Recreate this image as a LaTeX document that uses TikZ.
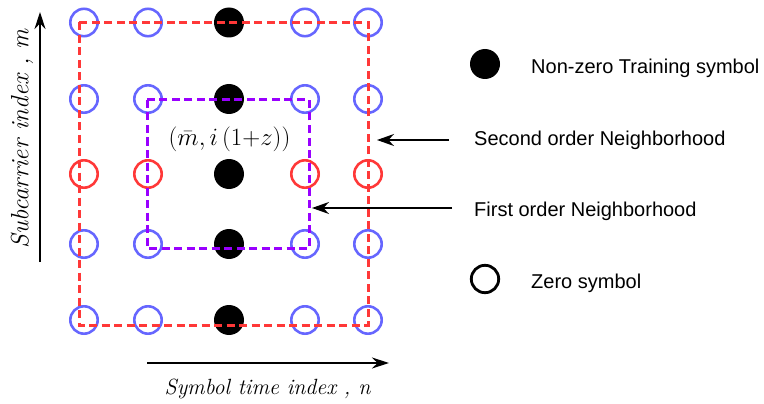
\documentclass[tikz,border=0pt]{standalone}
\usepackage{fontspec}
\newfontfamily\legendfont{Liberation Sans}
\usetikzlibrary{arrows.meta}
\definecolor{zblue}{HTML}{6666FF}
\definecolor{nred}{HTML}{FF3838}
\definecolor{npurple}{HTML}{9900FF}

\begin{document}
\begin{tikzpicture}[x=1pt,y=-1pt,
  zero/.style={circle, draw=zblue, line width=2.6pt, minimum size=27.4pt, inner sep=0pt},
  pilot/.style={circle, fill=black, minimum size=30pt, inner sep=0pt},
  nbrtwo/.style={draw=nred, line width=3pt, dash pattern=on 8pt off 4.5pt},
  nbrone/.style={draw=npurple, line width=3pt, dash pattern=on 8pt off 4.5pt},
  legtext/.style={inner sep=0pt, font=\legendfont\fontsize{20}{24}\selectfont},
  axlabel/.style={inner sep=0pt, font=\itshape\fontsize{24}{28}\selectfont},
  axis/.style={line width=1.3pt, -{Stealth[length=17pt, width=11pt]}},
  ptr/.style={line width=1.3pt, -{Stealth[length=17pt, width=12pt]}}]

\useasboundingbox (0,0) rectangle (764,404);

% symbol grid: zero symbols around a column of training symbols
\foreach \x/\i in {84/1,148/2,305/4,368/5} {
  \foreach \y/\j in {22.5/1,99/2,244/4,320/5}
    \node[zero] (c\i\j) at (\x,\y) {};
  \node[zero, draw=nred] (c\i3) at (\x,174) {};
}
\foreach \y/\j in {22.5/1,99/2,174/3,244/4,320/5}
  \node[pilot] (c3\j) at (229,\y) {};

% neighborhoods
\draw[nbrtwo] (79,22.5) rectangle (368,325);
\draw[nbrone] (147,100) rectangle (309,248);

\node[inner sep=0pt, font=\fontsize{23}{27}\selectfont] (pos) at (229.5,139)
  {$\left(\bar{m}, i\left(1{+}z\right)\right)$};

% axes
\coordinate (ya0) at (40,262);
\coordinate (ya1) at (40,12);
\draw[axis] (ya0) -- (ya1);
\node[axlabel, rotate=90, font=\itshape\fontsize{25}{29}\selectfont] (ylab) at (22,139) {Subcarrier index , m};

\coordinate (xa0) at (147,363);
\coordinate (xa1) at (389,363);
\draw[axis] (xa0) -- (xa1);
\node[axlabel, anchor=base, font=\itshape\fontsize{22}{26}\selectfont] (xlab) at (267.5,394) {Symbol time index , n};

% legend
\node[pilot] (lp) at (485,64) {};
\node[legtext, anchor=base west] (tp) at (531,73.3) {Non-zero Training symbol};
\node[legtext, anchor=base west] (t2) at (474,146) {Second order Neighborhood};
\node[legtext, anchor=base west] (t1) at (474,216) {First order Neighborhood};
\node[zero, draw=black, line width=2.8pt] (lz) at (485,279) {};
\node[legtext, anchor=base west] (tz) at (531,288) {Zero symbol};

\coordinate (p2) at (449,140);
\coordinate (q2) at (377,140);
\draw[ptr] (p2) -- (q2);
\coordinate (p1) at (452,208);
\coordinate (q1) at (312,208);
\draw[ptr] (p1) -- (q1);
\end{tikzpicture}
\end{document}
